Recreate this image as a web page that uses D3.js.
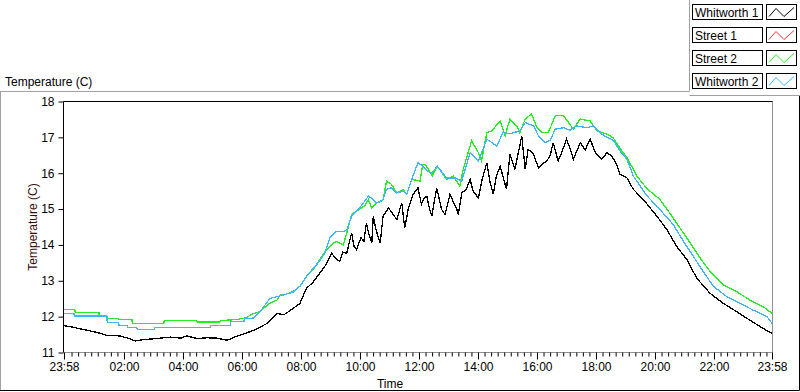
<!DOCTYPE html>
<html>
<head>
<meta charset="utf-8">
<script src="https://cdn.jsdelivr.net/npm/d3@7"></script>
<style>
  body { margin: 0; background: #fff; }
  svg { display: block; font-family: "Liberation Sans", Arial, sans-serif; }
</style>
</head>
<body>
<div id="chart"></div>
<script>
// Whitworth 1 (black)
var w1Time = ["23:58","00:18","00:38","01:05","01:25","01:53","02:10","02:23","02:40","03:07","03:35","03:55","04:08","04:29","04:49","05:09","05:30","05:50","06:10","06:24","06:51","07:11","07:25","07:41","07:58","08:11","08:24","08:38","08:51","09:02","09:11","09:19","09:25","09:33","09:43","09:48","09:53","10:02","10:08","10:13","10:18","10:24","10:27","10:32","10:41","10:47","10:58","11:05","11:15","11:25","11:31","11:38","11:48","11:58","12:05","12:10","12:16","12:21","12:26","12:36","12:46","12:53","13:03","13:17","13:20","13:27","13:36","13:44","13:50","14:01","14:08","14:18","14:24","14:31","14:37","14:45","14:51","14:58","15:05","15:15","15:25","15:29","15:36","15:42","15:53","16:03","16:10","16:20","16:27","16:33","16:43","16:51","17:00","17:07","17:14","17:28","17:38","17:48","17:59","18:12","18:22","18:32","18:42","18:49","19:03","19:16","19:36","20:04","20:24","20:44","21:05","21:25","21:52","22:19","22:46","23:13","23:40","23:58"];
var w1Temp = [11.75,11.70,11.64,11.56,11.48,11.46,11.39,11.32,11.36,11.39,11.43,11.40,11.46,11.39,11.41,11.40,11.34,11.46,11.55,11.62,11.81,12.09,12.05,12.20,12.37,12.79,12.95,13.21,13.45,13.77,13.62,13.54,13.80,13.77,14.33,13.95,13.87,14.20,14.10,14.61,14.30,14.05,14.80,14.45,14.05,14.80,15.03,14.90,14.71,15.17,14.47,14.99,15.41,15.59,15.13,15.30,15.36,15.03,14.80,15.59,14.99,14.85,15.41,14.99,14.85,15.45,15.55,15.83,15.50,15.31,15.80,16.29,15.78,15.41,15.90,16.20,15.90,15.55,16.53,16.11,16.76,17.04,16.11,16.67,16.53,16.15,16.25,16.34,16.50,16.85,16.34,16.60,16.95,16.70,16.39,16.85,16.65,16.95,16.57,16.39,16.57,16.48,16.25,15.97,15.87,15.55,15.27,14.80,14.43,13.96,13.59,13.07,12.65,12.37,12.14,11.90,11.67,11.53];

// Street 1 (red) - nothing visible in the plot
var s1Time = [];
var s1Temp = [];

// Street 2 (green)
var s2Time = ["23:58","00:20","00:21","01:09","01:10","01:25","01:26","01:49","01:50","02:16","02:17","03:21","03:22","04:28","04:29","05:15","05:17","05:50","06:08","06:24","06:36","06:57","07:11","07:17","07:29","07:44","07:58","08:11","08:24","08:38","08:49","08:59","09:05","09:12","09:19","09:26","09:33","09:43","09:53","10:03","10:10","10:17","10:24","10:34","10:41","10:47","10:54","11:04","11:15","11:28","11:35","11:45","12:02","12:08","12:12","12:19","12:27","12:37","12:56","13:10","13:23","13:30","13:47","14:01","14:07","14:18","14:28","14:45","14:55","15:05","15:19","15:25","15:36","15:49","16:00","16:10","16:23","16:37","16:54","17:14","17:28","17:48","18:02","18:22","18:35","18:49","19:03","19:16","19:23","19:43","19:50","20:10","20:31","20:51","21:12","21:32","21:52","22:19","22:46","23:13","23:40","23:58"];
var s2Temp = [12.20,12.20,12.11,12.11,12.02,12.02,11.95,11.95,11.92,11.92,11.81,11.81,11.89,11.89,11.85,11.85,11.89,11.92,11.97,12.09,12.14,12.38,12.46,12.60,12.62,12.70,12.85,13.12,13.30,13.59,13.82,13.96,14.05,14.10,14.05,14.00,14.33,14.85,14.94,15.03,15.10,15.27,15.03,15.17,15.20,15.27,15.78,15.69,15.45,15.55,15.41,15.83,15.78,16.25,16.25,16.11,15.92,16.20,15.83,15.92,15.64,16.11,16.90,16.57,16.34,17.13,17.18,17.46,17.04,17.51,17.32,17.13,17.51,17.65,17.27,17.13,17.13,17.60,17.60,17.23,17.51,17.46,17.18,17.09,16.99,16.69,16.43,16.11,15.92,15.58,15.50,15.27,14.87,14.47,14.05,13.63,13.26,12.89,12.70,12.46,12.28,12.09];

// Whitworth 2 (blue)
var w2Time = ["23:58","00:18","00:19","01:25","01:26","01:49","01:50","02:06","02:07","02:26","02:27","03:01","03:02","04:56","04:57","05:36","05:37","06:04","06:05","06:24","06:40","06:57","07:17","07:44","07:58","08:14","08:38","08:49","08:59","09:12","09:26","09:33","09:43","09:53","10:03","10:17","10:24","10:34","10:47","10:54","11:04","11:15","11:28","11:35","11:45","11:58","12:08","12:19","12:27","12:37","12:56","13:13","13:27","13:44","14:01","14:18","14:38","14:51","15:05","15:25","15:36","15:53","16:03","16:16","16:27","16:37","16:54","17:07","17:21","17:41","17:55","18:08","18:22","18:35","18:49","19:03","19:16","19:23","19:43","20:10","20:37","20:58","21:18","21:38","21:59","22:26","22:53","23:20","23:48","23:58"];
var w2Temp = [12.09,12.09,12.02,12.02,11.83,11.83,11.76,11.76,11.70,11.70,11.64,11.64,11.70,11.70,11.76,11.76,11.86,11.86,11.95,11.96,12.20,12.51,12.58,12.68,12.85,13.17,13.55,13.78,14.20,14.38,14.38,14.40,14.80,14.94,15.10,15.36,15.30,15.17,15.27,15.55,15.60,15.45,15.50,15.41,15.83,16.29,16.20,16.05,16.01,16.20,15.87,15.87,15.78,16.57,16.34,16.95,16.76,17.13,17.10,17.18,17.41,17.32,17.04,16.85,16.92,17.23,17.27,17.20,17.32,17.27,17.32,17.13,17.00,16.92,16.62,16.39,15.92,15.78,15.38,14.99,14.57,14.10,13.68,13.26,12.84,12.56,12.37,12.18,12.00,11.81];

var seriesNames = ["Whitworth 1", "Street 1", "Street 2", "Whitworth 2"];
var seriesColors = ["#000000", "#ff3333", "#22ee22", "#3fb4ff"];
var yTicks = [11, 12, 13, 14, 15, 16, 17, 18];
var xTickLabels = ["23:58","02:00","04:00","06:00","08:00","10:00","12:00","14:00","16:00","18:00","20:00","22:00","23:58"];

// minutes since the 23:58 start (last 23:58 = end of the day)
function toMin(t, i) {
  var p = t.split(":");
  var m = ((+p[0]) * 60 + (+p[1]) - 1438 + 1440) % 1440;
  if (m === 0 && i > 0) m = 1440;
  return m;
}
function makeSeries(times, temps) {
  return times.map(function (t, i) { return { m: toMin(t, i), v: temps[i] }; });
}
var series = [
  makeSeries(w1Time, w1Temp),
  makeSeries(s1Time, s1Temp),
  makeSeries(s2Time, s2Temp),
  makeSeries(w2Time, w2Temp)
];

var W = 800, H = 392;
var pLeft = 63.5, pRight = 772.5, pTop = 101.5, pBottom = 352.5;

var svg = d3.select("#chart").append("svg")
  .attr("width", W).attr("height", H);

var x = d3.scaleLinear().domain([0, 1440]).range([pLeft + 0.5, pRight - 0.5]);
var y = d3.scaleLinear().domain([11, 18]).range([pBottom, pTop]);

// outer frame
svg.append("path").attr("d", "M0,91.5H689.5V0M689.5,95.5H800M0.5,91.5V390")
  .attr("fill", "none").attr("stroke", "#a0a0a0");
svg.append("path").attr("d", "M799.5,96V390.5H0")
  .attr("fill", "none").attr("stroke", "#000");

svg.append("text").attr("x", 5).attr("y", 86)
  .style("font-size", "12px").text("Temperature (C)");

// plot area
svg.append("defs").append("clipPath").attr("id", "plotclip")
  .append("rect").attr("x", pLeft + 0.5).attr("y", pTop + 0.5)
  .attr("width", pRight - pLeft - 1).attr("height", pBottom - pTop - 1);

var line = d3.line()
  .x(function (d) { return x(d.m); })
  .y(function (d) { return y(d.v); });

svg.append("g").attr("clip-path", "url(#plotclip)")
  .selectAll("path")
  .data(series)
  .enter()
  .append("path")
  .attr("d", function (d) { return d.length ? line(d) : null; })
  .attr("fill", "none")
  .attr("stroke", function (d, i) { return seriesColors[i]; })
  .attr("stroke-width", 1.3)
  .attr("shape-rendering", "crispEdges");

// borders
svg.append("path").attr("d", "M" + pRight + "," + pTop + "V" + pBottom + "H" + pLeft)
  .attr("fill", "none").attr("stroke", "#909090");
svg.append("path").attr("d", "M" + pLeft + "," + pBottom + "V" + pTop + "H" + pRight)
  .attr("fill", "none").attr("stroke", "#000");

// y axis
var yAxis = d3.axisLeft(y).tickValues(yTicks).tickSize(5).tickPadding(4)
  .tickFormat(d3.format("d"));
var gy = svg.append("g").attr("transform", "translate(" + pLeft + ",0)").call(yAxis);
gy.select(".domain").remove();
gy.selectAll("text").style("font-size", "12px")
  .style("font-family", "'Liberation Sans', Arial, sans-serif").attr("fill", "#000");

// x axis, minor ticks first
var xMajor = xTickLabels.map(function (t, i) { return toMin(t, i); });
var xMinor = [];
for (var k = -9; k <= 99; k++) {
  var mm = 122 + k * 120 / 9;
  if (mm > 0 && mm < 1440 && Math.abs((mm - 122) % 120) > 1) xMinor.push(mm);
}
var gxm = svg.append("g").attr("transform", "translate(0," + pBottom + ")")
  .call(d3.axisBottom(x).tickValues(xMinor).tickSize(4).tickFormat(""));
gxm.select(".domain").remove();

var gx = svg.append("g").attr("transform", "translate(0," + pBottom + ")")
  .call(d3.axisBottom(x).tickValues(xMajor).tickSize(7).tickPadding(3)
    .tickFormat(function (d, i) { return xTickLabels[i]; }));
gx.select(".domain").remove();
gx.selectAll("text").style("font-size", "12px")
  .style("font-family", "'Liberation Sans', Arial, sans-serif").attr("fill", "#000");

// axis titles
svg.append("text").attr("x", 390).attr("y", 388).attr("text-anchor", "middle")
  .style("font-size", "12px").text("Time");
svg.append("text")
  .attr("transform", "translate(37," + ((pTop + pBottom) / 2) + ") rotate(-90)")
  .attr("text-anchor", "middle").attr("fill", "#3a0d0d")
  .style("font-size", "12px").text("Temperature (C)");

// legend
var zig = d3.line();
var leg = svg.append("g").selectAll("g")
  .data(seriesNames)
  .enter()
  .append("g")
  .attr("transform", function (d, i) { return "translate(0," + (4.5 + i * 23) + ")"; });
leg.append("rect").attr("x", 692.5).attr("y", 0).attr("width", 70).attr("height", 15)
  .attr("fill", "#fff").attr("stroke", "#000");
leg.append("text").attr("x", 695).attr("y", 12)
  .style("font-size", "12px").text(function (d) { return d; });
leg.append("rect").attr("x", 766.5).attr("y", 0).attr("width", 30).attr("height", 15)
  .attr("fill", "#fff").attr("stroke", "#000");
leg.append("path")
  .attr("d", zig([[769, 12], [776, 4], [784, 12], [794, 3]]))
  .attr("fill", "none")
  .attr("stroke", function (d, i) { return seriesColors[i]; });
</script>
</body>
</html>
